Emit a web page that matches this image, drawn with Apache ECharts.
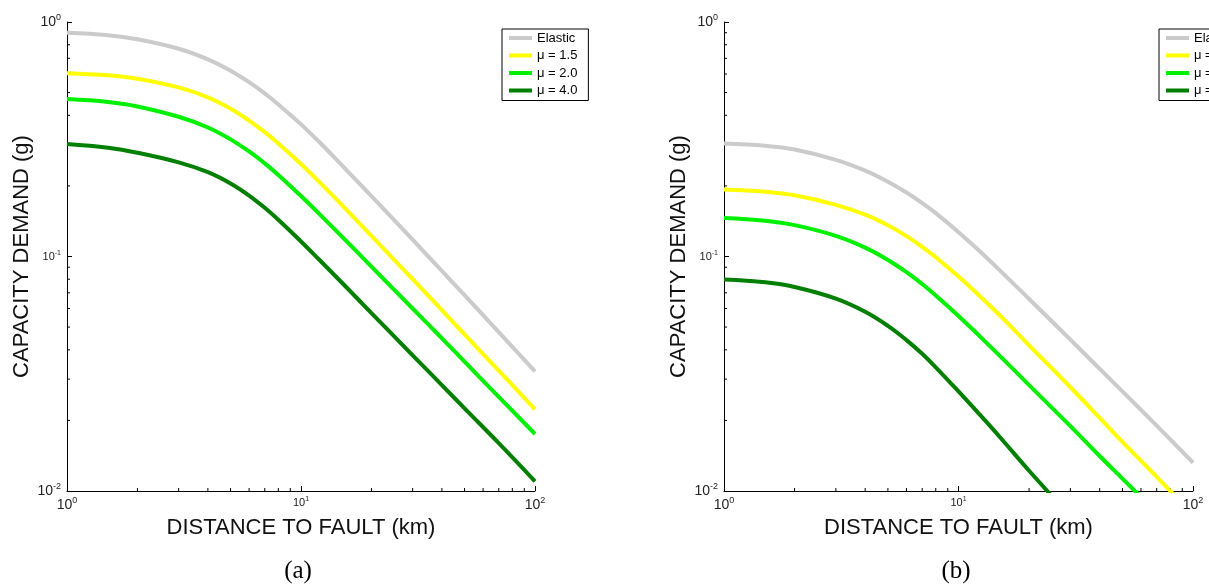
<!DOCTYPE html>
<html>
<head>
<meta charset="utf-8">
<script src="https://cdn.jsdelivr.net/npm/echarts@6/dist/echarts.min.js"></script>
<style>
html,body{margin:0;padding:0;background:#fff;}
#c{width:1209px;height:587px;}
</style>
</head>
<body>
<div id="c"></div>
<script>
// ---- data ----
const seriesNames = ['Elastic', 'μ = 1.5', 'μ = 2.0', 'μ = 4.0'];
const seriesColors = ['#cbcbcb', '#ffff00', '#00f000', '#007f00'];
const distances = [1, 1.5, 2, 3, 4, 5, 6, 7, 8, 10, 12, 15, 20, 30, 40, 50, 70, 100];
// panel (a)
const elasticA = [0.900, 0.879, 0.844, 0.769, 0.693, 0.620, 0.554, 0.496, 0.445, 0.366, 0.307, 0.244, 0.181, 0.118, 0.0868, 0.0684, 0.0476, 0.0324];
const mu15A = [0.605, 0.593, 0.573, 0.526, 0.477, 0.427, 0.380, 0.339, 0.3036, 0.248, 0.2075, 0.1652, 0.1225, 0.080, 0.0590, 0.0465, 0.0326, 0.0223];
const mu20A = [0.469, 0.4557, 0.4365, 0.3945, 0.355, 0.3158, 0.2805, 0.2495, 0.2228, 0.1811, 0.1517, 0.1213, 0.0906, 0.0600, 0.0448, 0.0356, 0.0252, 0.0175];
const mu40A = [0.302, 0.291, 0.277, 0.252, 0.229, 0.205, 0.182, 0.1614, 0.1435, 0.1159, 0.0966, 0.0771, 0.0574, 0.0379, 0.0283, 0.0225, 0.016, 0.0110];
// panel (b)
const elasticB = [0.303, 0.2965, 0.2858, 0.2582, 0.2323, 0.2084, 0.1875, 0.169, 0.1531, 0.127, 0.1079, 0.0873, 0.0659, 0.0442, 0.0332, 0.0266, 0.0190, 0.0132];
const mu15B = [0.193, 0.1888, 0.1824, 0.1661, 0.1507, 0.1358, 0.1222, 0.110, 0.0993, 0.0822, 0.0695, 0.0561, 0.0418, 0.0277, 0.0205, 0.0162, 0.0115, 0.0079];
const mu20B = [0.146, 0.1421, 0.1361, 0.1225, 0.1091, 0.0967, 0.0858, 0.0763, 0.0682, 0.0558, 0.0469, 0.0377, 0.0283, 0.0189, 0.0141, 0.0113, 0.0081, 0.0057];
const mu40B = [0.0798, 0.0776, 0.0741, 0.0661, 0.0581, 0.0506, 0.044, 0.0385, 0.0337, 0.0266, 0.0218, 0.0170, 0.0122, 0.0078, 0.0057, 0.0045, 0.0031, 0.0021];
// axis ranges and minor tick values
const xRange = [1, 100];
const yRange = [0.01, 1];
const minorTicksX = [2, 3, 4, 5, 6, 7, 8, 9, 20, 30, 40, 50, 60, 70, 80, 90];
const minorTicksY = [0.02, 0.03, 0.04, 0.05, 0.06, 0.07, 0.08, 0.09, 0.2, 0.3, 0.4, 0.5, 0.6, 0.7, 0.8, 0.9];
const xTitle = 'DISTANCE TO FAULT (km)';
const yTitle = 'CAPACITY DEMAND (g)';
const captions = ['(a)', '(b)'];

// ---- chart ----
const SANS = '"Liberation Sans", Arial, sans-serif';
const chart = echarts.init(document.getElementById('c'), null, {renderer: 'canvas'});

function tickFmt(v) {
  const e = Math.round(Math.log10(v));
  if (Math.abs(e) === 1) return '{m|10}{ms|' + e + '}';
  return '{B|10}{Bs|' + e + '}';
}
const richLbl = {
  B: {fontSize: 14, fontFamily: SANS, color: '#222'},
  Bs: {fontSize: 9, fontFamily: SANS, color: '#222', padding: [0, 0, 9, 0]},
  m: {fontSize: 11, fontFamily: SANS, color: '#222'},
  ms: {fontSize: 7, fontFamily: SANS, color: '#222', padding: [0, 0, 7, 0]}
};

const grids = [
  {left: 67, top: 22, width: 468, height: 469},
  {left: 724, top: 22, width: 469, height: 469}
];

function xAxisFor(i) {
  return {
    type: 'log', logBase: 10, gridIndex: i, min: xRange[0], max: xRange[1],
    axisLine: {show: true, lineStyle: {color: '#000', width: 1}},
    axisTick: {show: true, inside: true, length: 5, lineStyle: {color: '#000'}},
    splitLine: {show: false},
    axisLabel: {formatter: tickFmt, rich: richLbl, margin: 5},
    name: xTitle, nameLocation: 'middle', nameGap: 25,
    nameTextStyle: {fontSize: 22, fontFamily: SANS, color: '#111'}
  };
}
function yAxisFor(i) {
  return {
    type: 'log', logBase: 10, gridIndex: i, min: yRange[0], max: yRange[1],
    axisLine: {show: true, lineStyle: {color: '#000', width: 1}},
    axisTick: {show: true, inside: true, length: 5, lineStyle: {color: '#000'}},
    splitLine: {show: false},
    axisLabel: {formatter: tickFmt, rich: richLbl, margin: 6},
    name: yTitle, nameLocation: 'middle', nameGap: 34,
    nameTextStyle: {fontSize: 22, fontFamily: SANS, color: '#111'}
  };
}

const panelData = [
  [elasticA, mu15A, mu20A, mu40A],
  [elasticB, mu15B, mu20B, mu40B]
];

const series = [];
panelData.forEach((arrs, gi) => {
  arrs.forEach((vals, si) => {
    series.push({
      type: 'line', name: seriesNames[si], xAxisIndex: gi, yAxisIndex: gi,
      data: distances.map((d, k) => [d, vals[k]]),
      showSymbol: false, smooth: 0.4, clip: true,
      color: seriesColors[si],
      lineStyle: {color: seriesColors[si], width: 4},
      emphasis: {disabled: true}, silent: true
    });
  });
  // minor ticks (x)
  series.push({
    type: 'custom', xAxisIndex: gi, yAxisIndex: gi, silent: true, clip: false,
    data: minorTicksX.map(v => [v, yRange[0]]),
    renderItem: (params, api) => {
      const p = api.coord([api.value(0), api.value(1)]);
      return {type: 'line', shape: {x1: p[0], y1: p[1], x2: p[0], y2: p[1] - 3}, style: {stroke: '#000', lineWidth: 1}};
    }
  });
  // minor ticks (y)
  series.push({
    type: 'custom', xAxisIndex: gi, yAxisIndex: gi, silent: true, clip: false,
    data: minorTicksY.map(v => [xRange[0], v]),
    renderItem: (params, api) => {
      const p = api.coord([api.value(0), api.value(1)]);
      return {type: 'line', shape: {x1: p[0], y1: p[1], x2: p[0] + 3, y2: p[1]}, style: {stroke: '#000', lineWidth: 1}};
    }
  });
});

function legendAt(left) {
  return {
    left: left, top: 29, orient: 'vertical',
    data: seriesNames, icon: 'rect', itemWidth: 23, itemHeight: 4,
    itemGap: 3.5, itemTextGap: 8, padding: [2, 11, 3, 7],
    borderColor: '#000', borderWidth: 1, backgroundColor: '#fff',
    textStyle: {fontSize: 13, fontFamily: SANS, color: '#000', lineHeight: 14},
    selectedMode: false
  };
}

chart.setOption({
  animation: false,
  backgroundColor: '#fff',
  grid: grids,
  xAxis: [xAxisFor(0), xAxisFor(1)],
  yAxis: [yAxisFor(0), yAxisFor(1)],
  legend: [legendAt(502), legendAt(1159)],
  series: series,
  graphic: [
    {type: 'text', style: {text: captions[0], x: 298, y: 571, textAlign: 'center', textVerticalAlign: 'middle', font: '25px "Liberation Serif", "Times New Roman", serif', fill: '#000'}},
    {type: 'text', style: {text: captions[1], x: 956, y: 571, textAlign: 'center', textVerticalAlign: 'middle', font: '25px "Liberation Serif", "Times New Roman", serif', fill: '#000'}}
  ]
});
</script>
</body>
</html>
